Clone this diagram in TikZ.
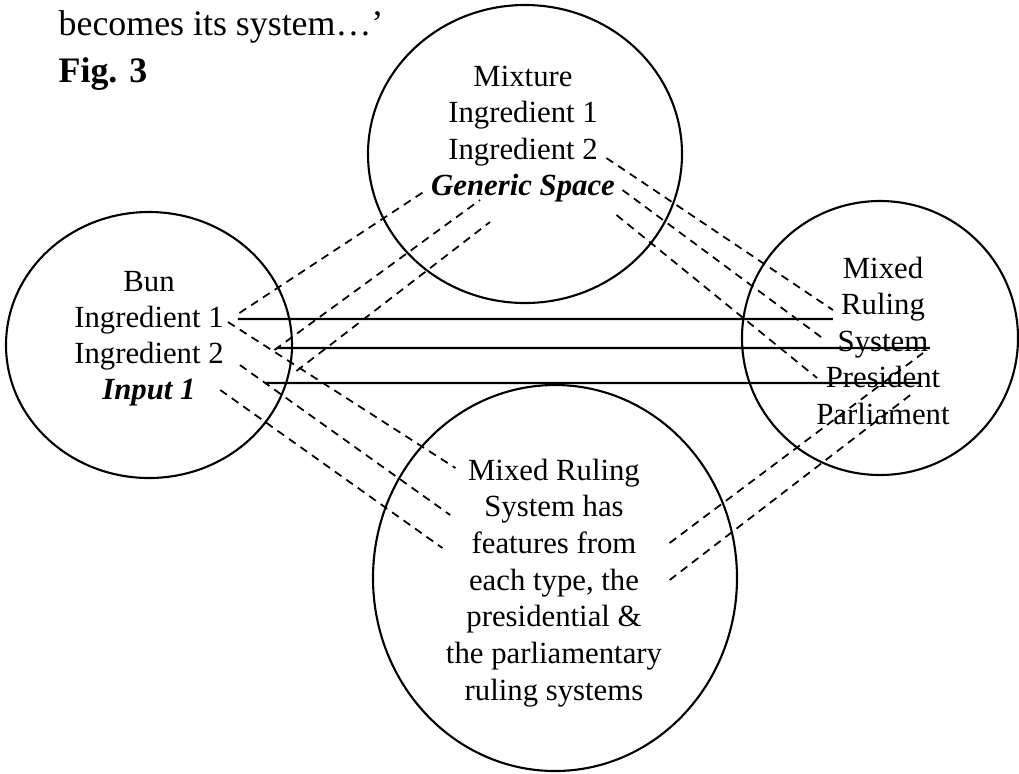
\documentclass[tikz,border=0pt]{standalone}
\usepackage{fontspec}
\setmainfont{Liberation Serif}
\usetikzlibrary{shapes.geometric, positioning}

\begin{document}
\begin{tikzpicture}[
		% --- ESTILOS DE LOS ESPACIOS ---
		space_circle/.style = {draw, ellipse, line width=0.6pt, inner sep=0pt},
		line_txt/.style = {inner sep=0pt, font=\fontsize{8.75}{10.4}\selectfont},
		head_txt/.style = {inner sep=0pt, anchor=base west, font=\fontsize{10.2}{12}\selectfont},
		% --- ESTILOS DE LAS CORRESPONDENCIAS ---
		map_dash/.style = {dash pattern=on 2.3pt off 1.7pt, line width=0.5pt},
		map_solid/.style = {line width=0.6pt}
		]
		\useasboundingbox (0,0) rectangle (10.19,-7.73);
		
		% =========================================================================
		% 1. ENCABEZADO
		% =========================================================================
		\node [head_txt] (intro) at (0.58,-0.35) {becomes its system…’};
		\node [head_txt, font=\fontsize{10.2}{12}\selectfont\bfseries] (fig) at (0.58,-0.82) {Fig. 3};
		
		% =========================================================================
		% 2. LOS CUATRO ESPACIOS
		% =========================================================================
		\node [space_circle, minimum width=3.14cm, minimum height=2.98cm] (gen) at (5.25,-1.54) {};
		\node [space_circle, minimum width=2.86cm, minimum height=2.66cm] (in1) at (1.49,-3.45) {};
		\node [space_circle, minimum width=2.76cm, minimum height=2.74cm] (out) at (8.80,-3.38) {};
		\node [space_circle, minimum width=3.64cm, minimum height=3.86cm] (blend) at (5.55,-5.78) {};
		
		% Espacio genérico (arriba)
		\node [line_txt, anchor=base] (g1) at (5.23,-0.86) {Mixture};
		\node [line_txt] (g2) [below=0.36cm of g1.base, anchor=base] {Ingredient 1};
		\node [line_txt] (g3) [below=0.37cm of g2.base, anchor=base] {Ingredient 2};
		\node [line_txt, font=\fontsize{8.75}{10.4}\selectfont\bfseries\itshape] (g4) [below=0.36cm of g3.base, anchor=base] {Generic Space};
		
		% Entrada 1 (izquierda)
		\node [line_txt, anchor=base] (i1) at (1.49,-2.91) {Bun};
		\node [line_txt] (i2) [below=0.36cm of i1.base, anchor=base] {Ingredient 1};
		\node [line_txt] (i3) [below=0.36cm of i2.base, anchor=base] {Ingredient 2};
		\node [line_txt, font=\fontsize{8.75}{10.4}\selectfont\bfseries\itshape] (i4) [below=0.36cm of i3.base, anchor=base] {Input 1};
		
		% Entrada 2 (derecha)
		\node [line_txt, anchor=base] (o1) at (8.83,-2.78) {Mixed};
		\node [line_txt] (o2) [below=0.36cm of o1.base, anchor=base] {Ruling};
		\node [line_txt] (o3) [below=0.37cm of o2.base, anchor=base] {System};
		\node [line_txt] (o4) [below=0.36cm of o3.base, anchor=base] {President};
		\node [line_txt] (o5) [below=0.37cm of o4.base, anchor=base] {Parliament};
		
		% Espacio mezclado (abajo)
		\node [line_txt, anchor=base] (b1) at (5.54,-4.80) {Mixed Ruling};
		\node [line_txt] (b2) [below=0.36cm of b1.base, anchor=base] {System has};
		\node [line_txt] (b3) [below=0.37cm of b2.base, anchor=base] {features from};
		\node [line_txt] (b4) [below=0.37cm of b3.base, anchor=base] {each type, the};
		\node [line_txt] (b5) [below=0.36cm of b4.base, anchor=base] {presidential \&};
		\node [line_txt] (b6) [below=0.37cm of b5.base, anchor=base] {the parliamentary};
		\node [line_txt] (b7) [below=0.37cm of b6.base, anchor=base] {ruling systems};
		
		% =========================================================================
		% 3. CORRESPONDENCIAS ENTRE ESPACIOS
		% =========================================================================
		% Entrada 1 -> Espacio genérico
		\draw [map_dash] ([xshift=0.15cm, yshift=0.14cm]i2.base east) -- ([xshift=-0.04cm, yshift=0.05cm]g4.base west);
		\draw [map_dash] ([xshift=0.50cm, yshift=0.13cm]i3.base east) -- ([xshift=-0.43cm, yshift=-0.05cm]g4.base);
		\draw [map_dash] ([xshift=0.72cm, yshift=-0.08cm]i3.base east) -- ([xshift=-0.33cm, yshift=-0.27cm]g4.base);
		
		% Espacio genérico -> Entrada 2
		\draw [map_dash] ([xshift=0.08cm, yshift=0.01cm]g3.base east) -- ([xshift=-0.075cm, yshift=0.04cm]o2.base west);
		\draw [map_dash] ([xshift=0.07cm, yshift=0.05cm]g4.base east) -- ([xshift=-0.12cm, yshift=0.11cm]o3.base west);
		\draw [map_dash] ([xshift=0.01cm, yshift=-0.20cm]g4.base east) -- ([xshift=-0.08cm, yshift=0.09cm]o4.base west);
		
		% Entrada 1 -> Espacio mezclado
		\draw [map_dash] ([xshift=0.035cm, yshift=0.05cm]i2.base east) -- ([xshift=-0.12cm, yshift=0.12cm]b1.base west);
		\draw [map_dash] ([xshift=0.155cm, yshift=-0.02cm]i3.base east) -- ([xshift=-0.335cm, yshift=0.01cm]b2.base west);
		\draw [map_dash] ([xshift=0.24cm, yshift=0.09cm]i4.base east) -- ([xshift=-0.285cm, yshift=0.05cm]b3.base west);
		
		% Espacio mezclado -> Entrada 2
		\draw [map_dash] ([xshift=0.325cm, yshift=0.10cm]b3.base east) -- ([xshift=-0.06cm, yshift=-0.02cm]o3.base east);
		\draw [map_dash] ([xshift=0.30cm, yshift=0.10cm]b4.base east) -- ([xshift=-0.28cm, yshift=-0.06cm]o4.base east);
		
		% Correspondencias directas Entrada 1 -> Entrada 2
		\draw [map_solid] ([xshift=0.135cm, yshift=0.08cm]i2.base east) -- ([xshift=-0.075cm, yshift=-0.05cm]o2.base west);
		\draw [map_solid] ([xshift=0.525cm, yshift=0.15cm]i3.base east) -- ([xshift=0.01cm, yshift=0.03cm]o3.base east);
		\draw [map_solid] ([xshift=0.69cm, yshift=0.16cm]i4.base east) -- ([xshift=-0.21cm, yshift=0.04cm]o4.base east);
		
	\end{tikzpicture}
\end{document}
